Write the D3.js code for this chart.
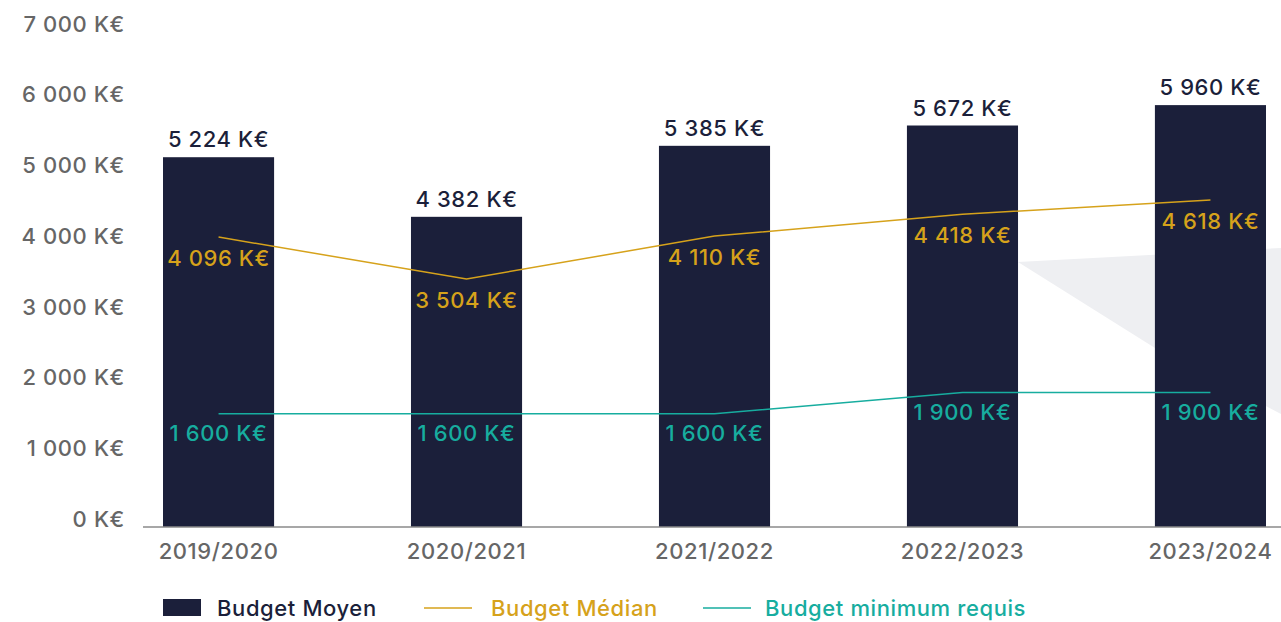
<!DOCTYPE html>
<html><head><meta charset="utf-8">
<script src="https://cdn.jsdelivr.net/npm/d3@7"></script>
<style>
html,body{margin:0;padding:0;background:#fff;}
text{font-family:Inter,"Noto Sans",sans-serif;letter-spacing:0.6px;}
</style></head>
<body><svg id="c" width="1281" height="622"></svg>
<script>
const categories = ["2019/2020","2020/2021","2021/2022","2022/2023","2023/2024"];
const budgetMoyen = [5224, 4382, 5385, 5672, 5960];
const budgetMedian = [4096, 3504, 4110, 4418, 4618];
const budgetMinimum = [1600, 1600, 1600, 1900, 1900];
const yTicks = [0,1000,2000,3000,4000,5000,6000,7000];
const seriesNames = ["Budget Moyen","Budget Médian","Budget minimum requis"];

const NAVY="#1b1f3a", GOLD="#d6a21b", TEAL="#17ad9f", GREY="#666666";
const FS = 22;
const fmt = v => d3.format(",")(v).replace(/,/g," ") + " K€";

const svg = d3.select("#c");
const x = d3.scaleBand().domain(categories).range([163,1266]).paddingInner(0.552).paddingOuter(0);
const y = d3.scaleLinear().domain([0,7000]).range([527,31.5]);
const cx = c => x(c) + x.bandwidth()/2;

// background decoration
svg.append("polygon").attr("points","1018,262 1281,248 1281,414 1155,348").attr("fill","#eeeff2");

// y tick labels
svg.append("g").selectAll("text").data(yTicks).join("text")
  .attr("x",125).attr("y",d=>y(d)).attr("text-anchor","end")
  .attr("fill",GREY).attr("font-size",FS).attr("font-weight",500)
  .text(d=>fmt(d));

// bars
svg.append("g").selectAll("rect").data(budgetMoyen).join("rect")
  .attr("x",(d,i)=>x(categories[i])).attr("width",x.bandwidth())
  .attr("y",d=>y(d)).attr("height",d=>y(0)-y(d)).attr("fill",NAVY);

// axis line
svg.append("line").attr("x1",143).attr("x2",1281).attr("y1",y(0)).attr("y2",y(0))
  .attr("stroke","#8a8a8a").attr("stroke-width",1.5);

// category labels
svg.append("g").selectAll("text").data(categories).join("text")
  .attr("x",d=>cx(d)).attr("y",559).attr("text-anchor","middle")
  .attr("fill",GREY).attr("font-size",FS).attr("font-weight",500).text(d=>d);

// bar value labels
svg.append("g").selectAll("text").data(budgetMoyen).join("text")
  .attr("x",(d,i)=>cx(categories[i])).attr("y",d=>y(d)-10).attr("text-anchor","middle")
  .attr("fill",NAVY).attr("font-size",FS).attr("font-weight",500).text(d=>fmt(d));

// lines
const line = d3.line().x((d,i)=>cx(categories[i])).y(d=>y(d));
svg.append("path").attr("d",line(budgetMedian)).attr("fill","none").attr("stroke",GOLD).attr("stroke-width",1.5);
svg.append("path").attr("d",line(budgetMinimum)).attr("fill","none").attr("stroke",TEAL).attr("stroke-width",1.5);

svg.append("g").selectAll("text").data(budgetMedian).join("text")
  .attr("x",(d,i)=>cx(categories[i])).attr("y",d=>y(d)+29).attr("text-anchor","middle")
  .attr("fill",GOLD).attr("font-size",FS).attr("font-weight",500).text(d=>fmt(d));
svg.append("g").selectAll("text").data(budgetMinimum).join("text")
  .attr("x",(d,i)=>cx(categories[i])).attr("y",d=>y(d)+27).attr("text-anchor","middle")
  .attr("fill",TEAL).attr("font-size",FS).attr("font-weight",500).text(d=>fmt(d));

// legend
const lg = svg.append("g");
lg.append("rect").attr("x",163).attr("y",599).attr("width",38).attr("height",17).attr("fill",NAVY);
lg.append("text").attr("x",217).attr("y",616).attr("fill",NAVY).attr("font-size",FS).attr("font-weight",500).text(seriesNames[0]);
lg.append("line").attr("x1",424).attr("x2",472).attr("y1",608).attr("y2",608).attr("stroke",GOLD).attr("stroke-width",1.5);
lg.append("text").attr("x",491).attr("y",616).attr("fill",GOLD).attr("font-size",FS).attr("font-weight",500).text(seriesNames[1]);
lg.append("line").attr("x1",703).attr("x2",751).attr("y1",608).attr("y2",608).attr("stroke",TEAL).attr("stroke-width",1.5);
lg.append("text").attr("x",765).attr("y",616).attr("fill",TEAL).attr("font-size",FS).attr("font-weight",500).text(seriesNames[2]);
</script></body></html>
